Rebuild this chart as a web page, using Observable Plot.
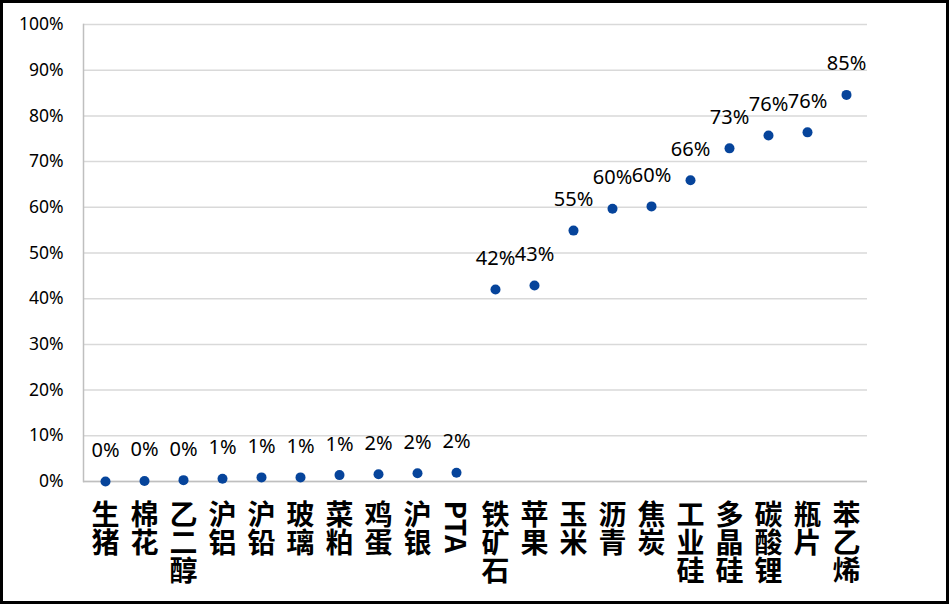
<!DOCTYPE html>
<html>
<head>
<meta charset="utf-8">
<script src="https://cdn.jsdelivr.net/npm/d3@7"></script>
<script src="https://cdn.jsdelivr.net/npm/@observablehq/plot@0.6"></script>
<style>
  html, body { margin: 0; padding: 0; background: #fff; }
  #wrap { position: relative; width: 949px; height: 604px; overflow: hidden; }
  #frame { position: absolute; left: 0; top: 0; width: 949px; height: 604px; box-sizing: border-box; border: 3px solid #000; pointer-events: none; }
</style>
</head>
<body>
<div id="wrap"><div id="frame"></div></div>
<script>
const categories = ["生猪","棉花","乙二醇","沪铝","沪铅","玻璃","菜粕","鸡蛋","沪银","PTA","铁矿石","苹果","玉米","沥青","焦炭","工业硅","多晶硅","碳酸锂","瓶片","苯乙烯"];
const values = [0.000,0.001,0.003,0.006,0.009,0.009,0.014,0.016,0.018,0.019,0.420,0.429,0.549,0.597,0.602,0.659,0.729,0.757,0.764,0.846];
const yTicks = [0,0.1,0.2,0.3,0.4,0.5,0.6,0.7,0.8,0.9,1.0];

const data = categories.map((c, i) => ({cat: c, v: values[i]}));
const pct = d3.format(".0%");
const font = "'Noto Sans', 'Noto Sans CJK SC', sans-serif";

const chart = Plot.plot({
  width: 949,
  height: 604,
  marginLeft: 83,
  marginRight: 82,
  marginTop: 24,
  marginBottom: 123,
  style: {fontFamily: font, background: "transparent", color: "#000"},
  x: {type: "point", domain: categories, padding: 0.5},
  y: {domain: [0, 1]},
  marks: [
    Plot.gridY(yTicks, {stroke: "#d9d9d9", strokeOpacity: 1, strokeWidth: 1.5}),
    Plot.ruleY([0], {stroke: "#bfbfbf", strokeWidth: 1.5}),
    Plot.frame({anchor: "left", stroke: "#bfbfbf", strokeWidth: 1.5}),
    Plot.axisY({ticks: yTicks, tickFormat: pct, tickSize: 0, tickPadding: 20, fontSize: 17.5, label: null}),
    Plot.axisX({tickSize: 0, tickPadding: 19, fontSize: 28, fontWeight: "bold", label: null}),
    Plot.dot(data, {x: "cat", y: "v", r: 5, fill: "#06449b", stroke: null}),
    Plot.text(data, {x: "cat", y: "v", text: d => pct(d.v), dy: -31, fontSize: 20, fill: "#000"})
  ]
});

// vertical (stacked) category labels
d3.select(chart).selectAll('g[aria-label="x-axis tick label"] text')
  .attr("text-anchor", "start")
  .attr("dy", null)
  .attr("y", 0)
  .style("writing-mode", "vertical-rl")
  .style("text-orientation", "mixed")
  .style("font-family", "'Noto Sans CJK SC', sans-serif");

chart.style.position = "absolute";
chart.style.left = "0px";
chart.style.top = "0px";
document.getElementById("wrap").insertBefore(chart, document.getElementById("frame"));
</script>
</body>
</html>
